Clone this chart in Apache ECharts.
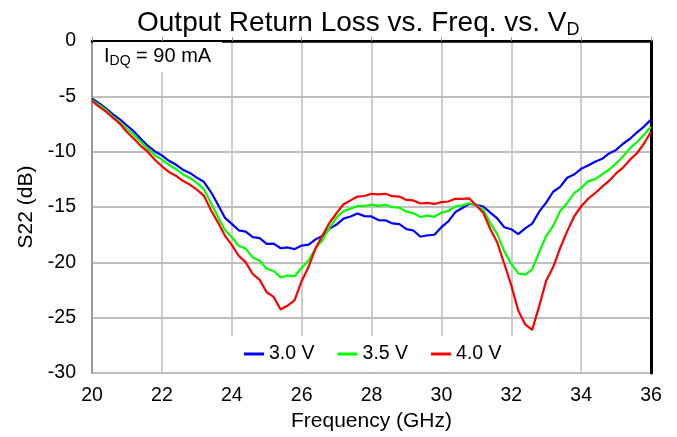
<!DOCTYPE html>
<html>
<head>
<meta charset="utf-8">
<script src="https://cdn.jsdelivr.net/npm/echarts@6/dist/echarts.min.js"></script>
<style>
html,body{margin:0;padding:0;background:#fff;}
#chart{width:677px;height:437px;}
</style>
</head>
<body>
<div id="chart"></div>
<script>
const FONT = '"Liberation Sans", Arial, Helvetica, sans-serif';

const freqGHz = [20.0,20.2,20.4,20.6,20.8,21.0,21.2,21.4,21.6,21.8,
22.0,22.2,22.4,22.6,22.8,23.0,23.2,23.4,23.6,23.8,
24.0,24.2,24.4,24.6,24.8,25.0,25.2,25.4,25.6,25.8,
26.0,26.2,26.4,26.6,26.8,27.0,27.2,27.4,27.6,27.8,
28.0,28.2,28.4,28.6,28.8,29.0,29.2,29.4,29.6,29.8,
30.0,30.2,30.4,30.6,30.8,31.0,31.2,31.4,31.6,31.8,
32.0,32.2,32.4,32.6,32.8,33.0,33.2,33.4,33.6,33.8,
34.0,34.2,34.4,34.6,34.8,35.0,35.2,35.4,35.6,35.8,36.0];

const s22_3V0 = [-5.2,-5.62,-6.08,-6.63,-7.08,-7.63,-8.17,-8.86,-9.48,-9.98,
-10.33,-10.82,-11.16,-11.62,-11.92,-12.34,-12.72,-13.62,-14.75,-15.95,
-16.52,-17.1,-17.22,-17.72,-17.8,-18.32,-18.3,-18.72,-18.65,-18.8,
-18.48,-18.4,-17.92,-17.6,-16.95,-16.58,-16.05,-15.86,-15.58,-15.82,
-15.85,-16.18,-16.2,-16.48,-16.55,-17.0,-17.12,-17.68,-17.55,-17.5,
-16.82,-16.3,-15.45,-15.08,-14.7,-14.8,-14.95,-15.5,-16.02,-16.82,
-17.0,-17.45,-16.92,-16.5,-15.42,-14.6,-13.62,-13.18,-12.35,-12.06,
-11.55,-11.25,-10.9,-10.64,-10.16,-9.84,-9.28,-8.83,-8.26,-7.73,-7.1];

const s22_3V5 = [-5.35,-5.77,-6.23,-6.82,-7.33,-7.93,-8.48,-9.13,-9.72,-10.32,
-10.72,-11.18,-11.56,-12.03,-12.37,-12.82,-13.38,-14.62,-15.86,-17.05,
-17.72,-18.5,-18.75,-19.55,-19.85,-20.58,-20.78,-21.35,-21.18,-21.25,
-20.5,-19.82,-18.72,-17.98,-16.85,-15.95,-15.35,-15.15,-14.9,-14.92,
-14.78,-14.9,-14.8,-15.02,-15.05,-15.42,-15.55,-15.9,-15.78,-15.88,
-15.5,-15.36,-14.95,-14.85,-14.66,-14.8,-15.25,-16.45,-17.45,-18.98,
-20.12,-21.0,-21.1,-20.62,-19.08,-17.62,-16.7,-15.35,-14.65,-13.75,
-13.28,-12.68,-12.48,-12.05,-11.63,-11.06,-10.43,-9.68,-9.12,-8.47,-7.75];

const s22_4V0 = [-5.4,-5.92,-6.38,-6.93,-7.48,-8.22,-8.83,-9.48,-10.02,-10.73,
-11.32,-11.83,-12.17,-12.63,-12.97,-13.43,-13.96,-15.24,-16.36,-17.55,
-18.42,-19.4,-20.0,-21.05,-21.58,-22.7,-23.12,-24.25,-23.9,-23.4,
-21.7,-20.4,-18.72,-17.55,-16.42,-15.56,-14.75,-14.4,-14.05,-14.0,
-13.8,-13.86,-13.8,-14.02,-14.05,-14.36,-14.4,-14.68,-14.62,-14.72,
-14.55,-14.5,-14.25,-14.26,-14.22,-14.86,-15.52,-16.98,-18.2,-20.12,
-22.05,-24.35,-25.6,-26.1,-23.95,-21.65,-20.42,-18.7,-17.2,-15.85,
-14.95,-14.25,-13.75,-13.16,-12.64,-11.96,-11.44,-10.72,-10.14,-9.26,-8.2];

const seriesNames = ['3.0 V','3.5 V','4.0 V'];
const seriesColors = ['#0000ff','#00ff00','#ff0000'];
const seriesValues = [s22_3V0, s22_3V5, s22_4V0];

const xTicks = {min:20, max:36, interval:2};
const yTicks = {min:-30, max:0, interval:5};

const chart = echarts.init(document.getElementById('chart'), null, {renderer:'canvas'});

const series = seriesValues.map((vals, i) => ({
  name: seriesNames[i],
  type: 'line',
  data: freqGHz.map((f, k) => [f, vals[k]]),
  showSymbol: false,
  symbol: 'none',
  lineStyle: {color: seriesColors[i], width: 2.2},
  itemStyle: {color: seriesColors[i]},
  z: 3
}));

chart.setOption({
  animation: false,
  backgroundColor: '#fff',
  textStyle: {fontFamily: FONT},
  title: {
    text: '{a|Output Return Loss vs. Freq. vs. V}{s|D}',
    left: 132, top: 2,
    textStyle: {
      fontWeight: 'normal',
      rich: {
        a: {fontSize: 28, fontFamily: FONT, fontWeight: 'normal', color: '#000', lineHeight: 32},
        s: {fontSize: 18, fontFamily: FONT, fontWeight: 'normal', color: '#000', verticalAlign: 'bottom', lineHeight: 16}
      }
    }
  },
  grid: {left: 92, right: 26, top: 41, bottom: 63, containLabel: false},
  legend: {
    data: seriesNames.map(n => ({name: n, icon: 'rect'})),
    left: 226, top: 336,
    padding: [8, 18, 8, 18],
    itemGap: 23, itemWidth: 20, itemHeight: 3,
    backgroundColor: '#fff',
    textStyle: {fontSize: 19.5, color: '#000', fontFamily: FONT},
    z: 10
  },
  xAxis: [{
    type: 'value', position: 'bottom',
    min: xTicks.min, max: xTicks.max, interval: xTicks.interval,
    axisLine: {show: true, lineStyle: {color: '#000', width: 2.5}},
    axisTick: {show: true, inside: true, length: 4, lineStyle: {color: '#999'}},
    axisLabel: {fontSize: 19.5, color: '#000', margin: 13, fontFamily: FONT},
    splitLine: {show: true, lineStyle: {color: '#bdbdbd', width: 1.5}},
    name: 'Frequency (GHz)', nameLocation: 'middle', nameGap: 35,
    nameTextStyle: {fontSize: 21, color: '#000', fontFamily: FONT}
  }, {
    type: 'value', position: 'top',
    min: xTicks.min, max: xTicks.max, interval: xTicks.interval,
    axisLine: {show: true, lineStyle: {color: '#000', width: 2}},
    axisTick: {show: false}, axisLabel: {show: false}, splitLine: {show: false}
  }],
  yAxis: [{
    type: 'value', position: 'left',
    min: yTicks.min, max: yTicks.max, interval: yTicks.interval,
    axisLine: {show: true, lineStyle: {color: '#888', width: 1.5}},
    axisTick: {show: false},
    axisLabel: {fontSize: 19.5, color: '#000', margin: 16, fontFamily: FONT},
    splitLine: {show: true, lineStyle: {color: '#aaaaaa', width: 1.5}},
    name: 'S22 (dB)', nameLocation: 'middle', nameGap: 45,
    nameTextStyle: {fontSize: 21, color: '#000', fontFamily: FONT}
  }, {
    type: 'value', position: 'right',
    min: yTicks.min, max: yTicks.max, interval: yTicks.interval,
    axisLine: {show: true, lineStyle: {color: '#000', width: 3}},
    axisTick: {show: false}, axisLabel: {show: false}, splitLine: {show: false}
  }],
  graphic: [{
    type: 'rect', z: 20,
    shape: {x: 93, y: 42, width: 129, height: 30},
    style: {fill: '#fff'}
  }, {
    type: 'text', z: 21, left: 104, top: 46,
    style: {
      text: '{a|I}{s|DQ}{a| = 90 mA}',
      rich: {
        a: {fontSize: 20, fontFamily: FONT, fill: '#000', lineHeight: 24},
        s: {fontSize: 14, fontFamily: FONT, fill: '#000', verticalAlign: 'bottom', lineHeight: 14}
      }
    }
  }],
  series: series
});
</script>
</body>
</html>
